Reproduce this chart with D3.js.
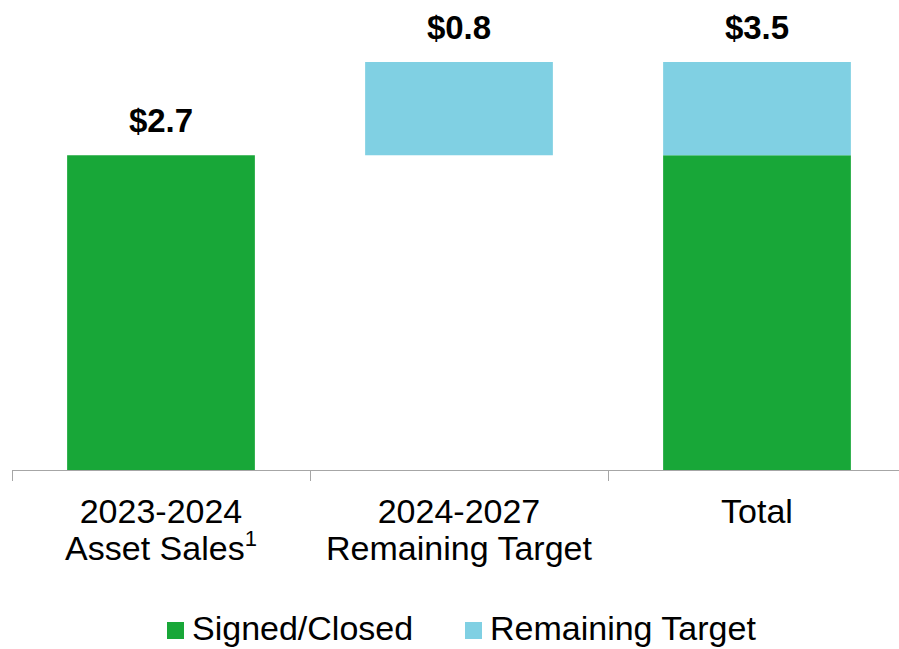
<!DOCTYPE html>
<html lang="en">
    <head>
        <meta charset="utf-8">
        <title>Asset Sales Waterfall</title>
        <script src="https://d3js.org/d3.v7.min.js"></script>
        <style type="text/css">
            body{
                margin: 0;
                background: #fff;
            }
            svg{
                display: block;
                font-family: "Liberation Sans", Arial, sans-serif;
            }
        </style>
    </head>
    <body>
        <svg width="899" height="649"></svg>
        <script type="text/javascript">

        const w = 899;
        const h = 649;

        //DATA
        const categories = ["2023-2024|Asset Sales", "2024-2027|Remaining Target", "Total"];
        const signedClosed = [2.7, 0, 2.7];
        const remaining = [0, 0.8, 0.8];
        const remainingStart = [0, 2.7, 2.7];
        const valueLabels = ["$2.7", "$0.8", "$3.5"];
        const seriesNames = ["Signed/Closed", "Remaining Target"];

        const green = "#18a738";
        const blue = "#80d0e3";

        const svg = d3.select("svg");

        //SCALES
        const x = d3.scaleBand()
                    .domain(categories)
                    .range([12, 906])
                    .paddingInner(0.37)
                    .paddingOuter(0.185);

        const y = d3.scaleLinear()
                    .domain([0, 3.5])
                    .range([470, 62]);

        //GREEN BARS
        svg.selectAll("rect.signed")
           .data(categories)
           .join("rect")
           .attr("class", "signed")
           .attr("x", d => x(d))
           .attr("width", x.bandwidth())
           .attr("y", (d,i) => y(signedClosed[i]))
           .attr("height", (d,i) => y(0) - y(signedClosed[i]))
           .attr("fill", green);

        //BLUE (FLOATING) BARS
        svg.selectAll("rect.remaining")
           .data(categories)
           .join("rect")
           .attr("class", "remaining")
           .attr("x", d => x(d))
           .attr("width", x.bandwidth())
           .attr("y", (d,i) => y(remainingStart[i] + remaining[i]))
           .attr("height", (d,i) => y(remainingStart[i]) - y(remainingStart[i] + remaining[i]))
           .attr("fill", blue);

        //VALUE LABELS
        svg.selectAll("text.val")
           .data(categories)
           .join("text")
           .attr("class", "val")
           .attr("x", d => x(d) + x.bandwidth()/2)
           .attr("y", (d,i) => y(remainingStart[i] + remaining[i] + (i === 0 ? signedClosed[i] : 0)) - 23)
           .attr("text-anchor", "middle")
           .attr("font-size", 33)
           .attr("font-weight", "bold")
           .attr("fill", "#000")
           .text((d,i) => valueLabels[i]);

        //AXIS (line + ticks between categories)
        const [x0, x1] = x.range();
        const axis = svg.append("g").attr("stroke", "#a6a6a6").attr("stroke-width", 1);
        axis.append("line")
            .attr("x1", x0).attr("x2", x1)
            .attr("y1", y(0) + 0.5).attr("y2", y(0) + 0.5);
        axis.selectAll("line.tick")
            .data(d3.range(categories.length + 1))
            .join("line")
            .attr("class", "tick")
            .attr("x1", i => x0 + i * x.step() + 0.5)
            .attr("x2", i => x0 + i * x.step() + 0.5)
            .attr("y1", y(0))
            .attr("y2", y(0) + 11);

        //CATEGORY LABELS
        const cat = svg.selectAll("text.cat")
           .data(categories)
           .join("text")
           .attr("class", "cat")
           .attr("x", d => x(d) + x.bandwidth()/2)
           .attr("y", 523)
           .attr("text-anchor", "middle")
           .attr("font-size", 34)
           .attr("fill", "#000");

        cat.each(function(d, i){
            const lines = d.split("|");
            const t = d3.select(this);
            lines.forEach((ln, j) => {
                const ts = t.append("tspan")
                    .attr("x", x(d) + x.bandwidth()/2)
                    .attr("dy", j === 0 ? 0 : 37)
                    .text(ln);
                if (i === 0 && j === 1) {
                    ts.append("tspan").attr("font-size", 22).attr("dy", -14).text("1");
                }
            });
        });

        //LEGEND
        const legendX = [167, 465];
        const legend = svg.selectAll("g.legend")
           .data(seriesNames)
           .join("g")
           .attr("class", "legend")
           .attr("transform", (d,i) => `translate(${legendX[i]},622)`);
        legend.append("rect")
              .attr("width", 17).attr("height", 17)
              .attr("fill", (d,i) => i === 0 ? green : blue);
        legend.append("text")
              .attr("x", 25)
              .attr("y", 18)
              .attr("font-size", 34)
              .attr("fill", "#000")
              .text(d => d);

        </script>
    </body>
</html>
